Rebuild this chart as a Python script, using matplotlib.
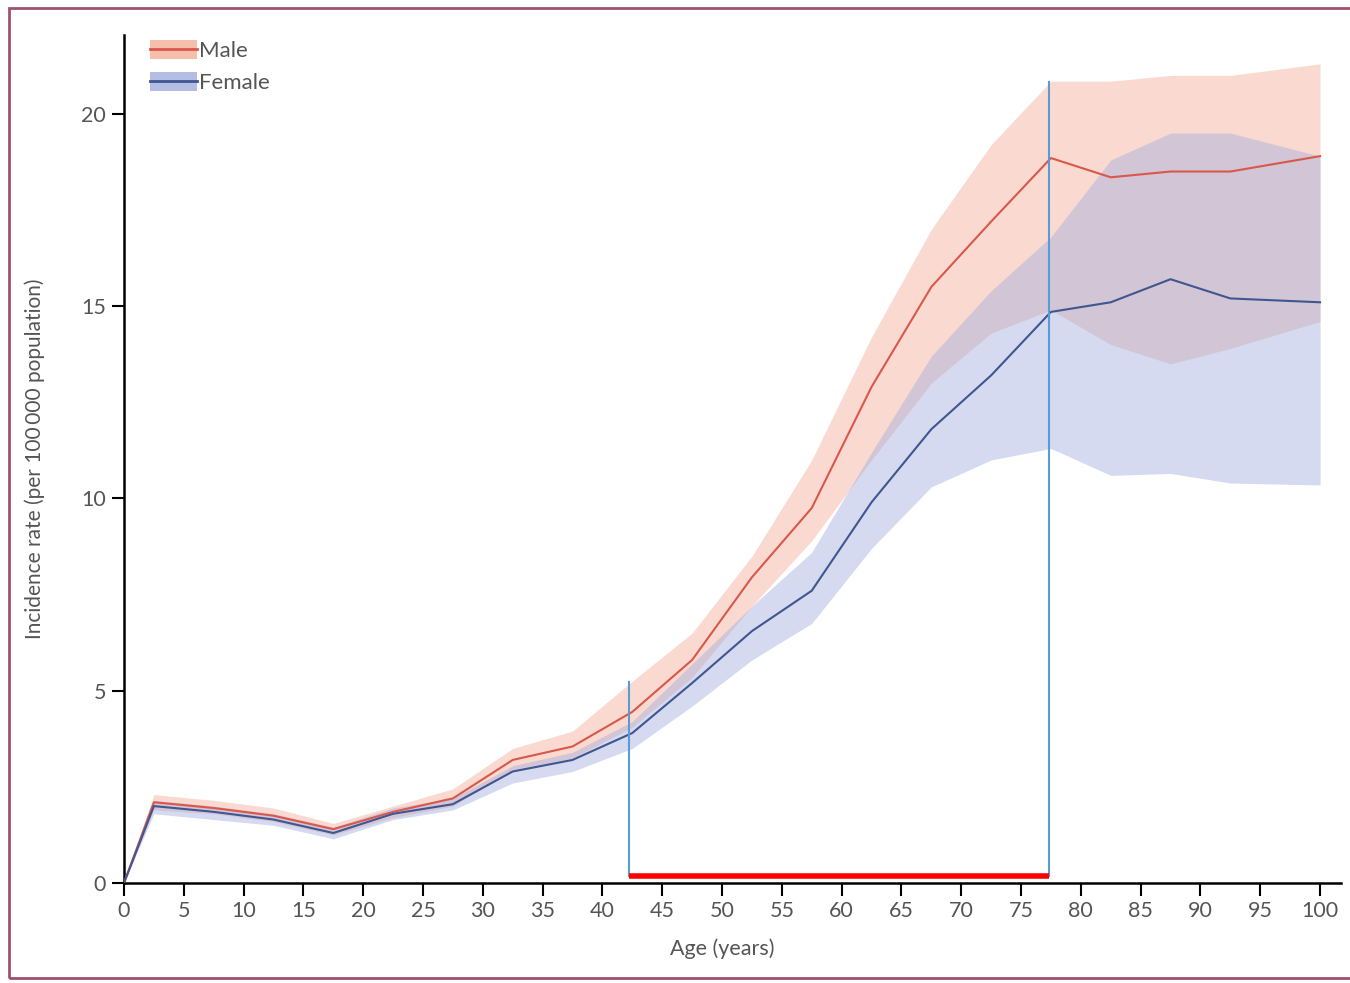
import matplotlib
matplotlib.use("Agg")
import matplotlib.pyplot as plt
from matplotlib.patches import Patch, Rectangle
from matplotlib.lines import Line2D

# Age group midpoints (years)
ages = [0, 2.5, 7.5, 12.5, 17.5, 22.5, 27.5, 32.5, 37.5, 42.5, 47.5,
        52.5, 57.5, 62.5, 67.5, 72.5, 77.5, 82.5, 87.5, 92.5, 100]

# Incidence per 100 000 population: estimate and uncertainty interval
male_rate = [0, 2.1, 1.95, 1.75, 1.4, 1.85, 2.2, 3.2, 3.55, 4.45, 5.8,
             7.95, 9.75, 12.9, 15.5, 17.2, 18.85, 18.35, 18.5, 18.5, 18.9]
male_upper = [0, 2.3, 2.15, 1.95, 1.55, 2.0, 2.45, 3.5, 3.95, 5.25, 6.5,
              8.5, 11.0, 14.2, 17.0, 19.2, 20.85, 20.85, 21.0, 21.0, 21.3]
male_lower = [0, 1.9, 1.8, 1.6, 1.25, 1.7, 2.0, 2.95, 3.25, 4.05, 5.35,
              7.2, 8.9, 11.0, 13.0, 14.3, 14.9, 14.0, 13.5, 13.9, 14.6]

female_rate = [0, 2.0, 1.85, 1.65, 1.3, 1.8, 2.05, 2.9, 3.2, 3.9, 5.2,
               6.55, 7.6, 9.9, 11.8, 13.2, 14.85, 15.1, 15.7, 15.2, 15.1]
female_upper = [0, 2.15, 2.0, 1.8, 1.45, 1.95, 2.2, 3.05, 3.4, 4.2, 5.7,
                7.2, 8.6, 11.2, 13.7, 15.4, 16.8, 18.8, 19.5, 19.5, 18.9]
female_lower = [0, 1.8, 1.65, 1.5, 1.15, 1.65, 1.9, 2.6, 2.9, 3.5, 4.6,
                5.8, 6.75, 8.7, 10.3, 11.0, 11.3, 10.6, 10.65, 10.4, 10.35]

# Highlighted age window and the heights of its boundary markers
window_ages = [42.2, 77.3]
window_tops = [5.23, 20.83]
window_base = 0.18

x_ticks = list(range(0, 101, 5))
y_ticks = [0, 5, 10, 15, 20]

plt.rcParams["font.family"] = ["Lato", "DejaVu Sans"]
text_grey = "#555555"

fig = plt.figure(figsize=(13.5, 9.83), dpi=100)
ax = fig.add_axes([124 / 1350, 100 / 983, 1217 / 1350, 848 / 983])

male_line = "#D9574B"
male_fill = "#F4AF97"
female_line = "#3F5690"
female_fill = "#A2ADDE"

ax.fill_between(ages, male_lower, male_upper, color=male_fill, alpha=0.45,
                linewidth=0)
ax.fill_between(ages, female_lower, female_upper, color=female_fill,
                alpha=0.45, linewidth=0)
ax.plot(ages, male_rate, color=male_line, lw=1.5, zorder=3)
ax.plot(ages, female_rate, color=female_line, lw=1.5, zorder=3)

# Age window markers
for a, top in zip(window_ages, window_tops):
    ax.plot([a, a], [window_base, top], color="#5B9BD5", lw=1.5, zorder=4)
ax.plot(window_ages, [window_base, window_base], color="#FF0000", lw=4,
        solid_capstyle="butt", zorder=4)

ax.set_xlim(0, 101.75)
ax.set_ylim(0, 22.05)
ax.set_xticks(x_ticks)
ax.set_yticks(y_ticks)

for side in ("top", "right"):
    ax.spines[side].set_visible(False)
for side in ("left", "bottom"):
    ax.spines[side].set_linewidth(1.8)
    ax.spines[side].set_color("black")
ax.tick_params(axis="both", direction="out", length=9, width=1.5,
               color="black", labelsize=15.5, labelcolor=text_grey, pad=4)

ax.set_xlabel("Age (years)", fontsize=15.5, color=text_grey)
ax.xaxis.set_label_coords((722 - 124) / 1217, -0.065)
ax.set_ylabel("Incidence rate (per 100\u2009000 population)", fontsize=15,
              color=text_grey)
ax.yaxis.set_label_coords(-(124 - 45) / 1217, 0.5)

handles = [
    (Patch(facecolor=male_fill, alpha=0.8, edgecolor="none"),
     Line2D([], [], color=male_line, lw=2)),
    (Patch(facecolor=female_fill, alpha=0.8, edgecolor="none"),
     Line2D([], [], color=female_line, lw=2)),
]
leg = ax.legend(handles, ["Male", "Female"], loc="upper left",
                bbox_to_anchor=(0.014, 1.004), frameon=False, fontsize=16,
                handlelength=2.1, handleheight=0.9, handletextpad=0.1,
                labelspacing=0.5, borderaxespad=0)
for t in leg.get_texts():
    t.set_color(text_grey)

# Frame around the whole figure
fig.patches.append(Rectangle((9 / 1350, 1 - 978 / 983), 1350 / 1350,
                             (978 - 8) / 983, transform=fig.transFigure,
                             fill=False, edgecolor="#A0506C", lw=2))

fig.savefig("out.png", dpi=100)
